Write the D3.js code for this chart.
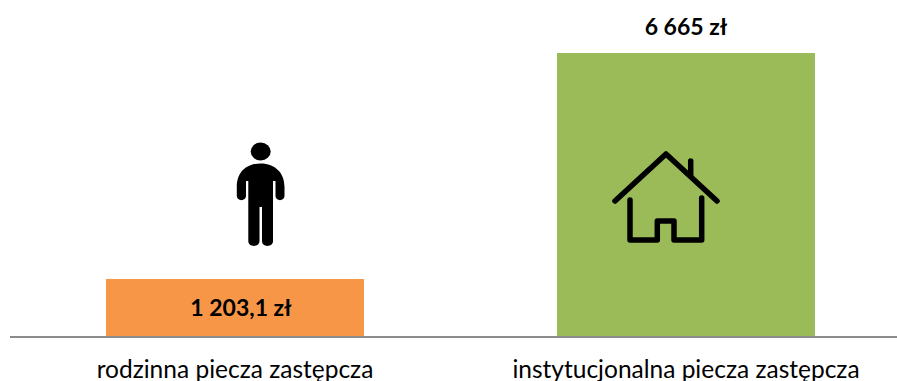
<!DOCTYPE html>
<html>
<head>
<meta charset="utf-8">
<script src="https://cdn.jsdelivr.net/npm/d3@7"></script>
<style>
  html, body { margin: 0; padding: 0; background: #fff; overflow: hidden; }
  svg { display: block; font-family: Lato, "Open Sans", sans-serif; }
</style>
</head>
<body>
<svg id="chart"></svg>
<script>
// Values
var categories = ['rodzinna piecza zastępcza', 'instytucjonalna piecza zastępcza'];
var values = [1203.1, 6665];
var valueLabels = ['1 203,1 zł', '6 665 zł'];
var barColors = ['#f79646', '#9bbb59'];
var axisMin = -174;// the orange bar is drawn a bit taller than its value, so the axis starts below zero

var config = {
  svgWidth: 897,
  svgHeight: 381,
  baseline: 336,
  top: 53,
  axisLeft: 10,
  axisRight: 897,
  bandRight: 911,// the plot runs a little past the window on the right
}

var svg = d3.select('#chart')
  .attr('width', config.svgWidth)
  .attr('height', config.svgHeight);

var x = d3.scaleBand()
  .domain(categories)
  .range([config.axisLeft, config.bandRight])
  .paddingInner(0.428)
  .paddingOuter(0.2129);

var y = d3.scaleLinear()
  .domain([axisMin, d3.max(values)])
  .range([config.baseline, config.top]);

// Bars
svg.selectAll('rect.bar')
  .data(values)
  .enter().append('rect')
  .attr('class', 'bar')
  .attr('x', function(d, i) { return x(categories[i]); })
  .attr('y', function(d) { return y(d); })
  .attr('width', x.bandwidth())
  .attr('height', function(d) { return config.baseline - y(d); })
  .attr('fill', function(d, i) { return barColors[i]; });

// Category axis
var axis = svg.append('g')
  .attr('transform', 'translate(0,' + config.baseline + ')')
  .call(d3.axisBottom(x).tickSize(0).tickPadding(25));
axis.select('.domain')
  .attr('stroke', '#8c8c8c')
  .attr('stroke-width', 2)
  .attr('d', 'M' + config.axisLeft + ',1H' + config.axisRight);
axis.selectAll('text')
  .attr('font-size', '24.5px')
  .attr('font-family', 'Lato')
  .attr('fill', '#000');

// Value labels, the first sits inside its bar (a little right of centre) and the second above
svg.selectAll('text.value')
  .data(values)
  .enter().append('text')
  .attr('class', 'value')
  .attr('x', function(d, i) { return x(categories[i]) + x.bandwidth() / 2 + (i === 0 ? 6 : 0); })
  .attr('y', function(d, i) { return i === 0 ? y(d) + 37 : y(d) - 18; })
  .attr('text-anchor', 'middle')
  .attr('font-size', '23px')
  .attr('font-weight', 'bold')
  .attr('fill', '#000')
  .text(function(d, i) { return valueLabels[i]; });

// Person icon
var person = svg.append('g').attr('fill', '#000');
person.append('ellipse')
  .attr('cx', 260.7).attr('cy', 151.5).attr('rx', 10).attr('ry', 9);
person.append('path')
  .attr('d', 'M260.5,163.5 C272,163.5 284.5,170 284.5,187 L284.5,196 C284.5,201.5 275.5,201.5 275.5,196 L275.5,181 L273,181 L273,241 C273,247.5 262,247.5 262,241 L262,207 L259.5,207 L259.5,241 C259.5,247.5 248.3,247.5 248.3,241 L248.3,181 L246,181 L246,196 C246,201.5 236.8,201.5 236.8,196 L236.8,187 C236.8,170 249,163.5 260.5,163.5 Z');

// House icon
var house = svg.append('g')
  .attr('fill', 'none')
  .attr('stroke', '#000')
  .attr('stroke-width', 5.5)
  .attr('stroke-linecap', 'round')
  .attr('stroke-linejoin', 'round');
house.append('path').attr('d', 'M615,201 L666,154 L717,201');
house.append('path').attr('d', 'M690.7,161 L690.7,176');
house.append('path').attr('d', 'M630,200 L630,240 L657.3,240 L657.3,221 L674,221 L674,240 L701.7,240 L701.7,198');
</script>
</body>
</html>
